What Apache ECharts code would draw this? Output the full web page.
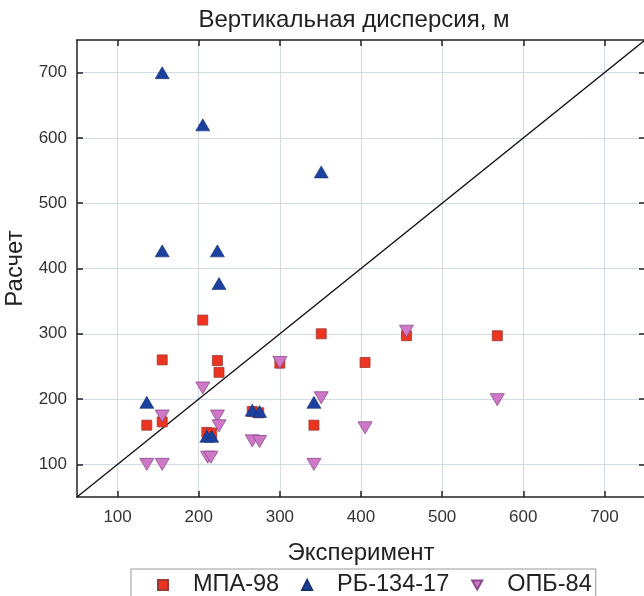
<!DOCTYPE html>
<html>
<head>
<meta charset="utf-8">
<script src="https://cdn.jsdelivr.net/npm/echarts@6/dist/echarts.min.js"></script>
<style>
  html, body { margin: 0; padding: 0; background: #fff; }
  #chart { width: 644px; height: 596px; }
</style>
</head>
<body>
<div id="chart"></div>
<script>
  // данные: [эксперимент, расчет]
  var mpa98 = [
    [136, 160], [155, 165], [155, 260], [205, 321], [210, 149], [216, 148],
    [223, 259], [225, 241], [266, 181], [274, 179], [300, 255], [342, 160],
    [351, 300], [405, 256], [456, 297], [568, 297]
  ];
  var rb13417 = [
    [155, 700], [205, 620], [351, 548], [155, 427], [223, 427], [225, 377],
    [136, 195], [210, 143], [216, 143], [266, 183], [275, 181], [342, 195]
  ];
  var opb84 = [
    [205, 217], [155, 174], [223, 174], [225, 159], [211, 111], [215, 111],
    [266, 136], [275, 135], [300, 256], [351, 202], [342, 100], [136, 100],
    [155, 100], [405, 156], [456, 304], [568, 199]
  ];
  // линия y = x
  var diagonal = [[50, 50], [750, 750]];
  var tickValues = [100, 200, 300, 400, 500, 600, 700];
  var axisMin = 50, axisMax = 750;
  var seriesNames = ["МПА-98", "РБ-134-17", "ОПБ-84"];

  var font = "Liberation Sans, Arial, sans-serif";
  var myChart = echarts.init(document.getElementById("chart"));

  // общие настройки осей
  function mainAxis(pos, name) {
    return {
      type: "value",
      position: pos,
      min: axisMin,
      max: axisMax,
      name: name,
      nameLocation: "middle",
      nameGap: pos === "bottom" ? 44 : 44,
      nameTextStyle: { fontFamily: font, fontSize: 24, color: "#222" },
      axisLine: { show: true, onZero: false, lineStyle: { color: "#222", width: 1.5 } },
      axisTick: { show: true, inside: true, length: 6, customValues: tickValues, lineStyle: { color: "#222", width: 1.5 } },
      axisLabel: {
        fontFamily: font, fontSize: 17, color: "#333",
        margin: pos === "bottom" ? 12 : 10,
        customValues: tickValues
      },
      splitLine: { show: true, lineStyle: { color: "#d3dbe4", width: 1 } }
    };
  }
  function sideAxis(pos) {
    return {
      type: "value",
      position: pos,
      min: axisMin,
      max: axisMax,
      axisLine: { show: true, onZero: false, lineStyle: { color: "#222", width: 1.5 } },
      axisTick: { show: true, inside: true, length: 6, customValues: tickValues, lineStyle: { color: "#222", width: 1.5 } },
      axisLabel: { show: false },
      splitLine: { show: false }
    };
  }

  myChart.setOption({
    animation: false,
    title: {
      text: "Вертикальная дисперсия, м",
      left: 349,
      textAlign: "center",
      top: 3,
      textStyle: { fontFamily: font, fontSize: 24, fontWeight: "normal", color: "#222" }
    },
    grid: { left: 77, right: -1, top: 40, bottom: 99, outerBoundsMode: "none", containLabel: false },
    legend: {
      top: 569,
      left: 131,
      data: [
        { name: seriesNames[0], icon: "rect" },
        { name: seriesNames[1], icon: "triangle" },
        { name: seriesNames[2], icon: "path://M0,0 L10,0 L5,9 Z" }
      ],
      itemWidth: 10,
      itemHeight: 10,
      itemGap: 22,
      padding: [4, 4, 8, 26],
      borderColor: "#999",
      borderWidth: 1,
      textStyle: { fontFamily: font, fontSize: 23.5, color: "#222", padding: [0, 0, 0, 20] }
    },
    xAxis: [mainAxis("bottom", "Эксперимент"), sideAxis("top")],
    yAxis: [mainAxis("left", "Расчет"), sideAxis("right")],
    series: [
      {
        type: "line",
        data: diagonal,
        symbol: "none",
        silent: true,
        lineStyle: { color: "#111", width: 1.3 },
        z: 1
      },
      {
        name: seriesNames[0],
        type: "scatter",
        data: mpa98,
        symbol: "rect",
        symbolSize: 10,
        itemStyle: { color: "#ec3420", borderColor: "#9a3b36", borderWidth: 0.8, opacity: 1 },
        z: 2
      },
      {
        name: seriesNames[1],
        type: "scatter",
        data: rb13417,
        symbol: "triangle",
        symbolSize: [14, 12],
        itemStyle: { color: "#1c409e", borderColor: "#15306e", borderWidth: 0.6, opacity: 1 },
        z: 3
      },
      {
        name: seriesNames[2],
        type: "scatter",
        data: opb84,
        symbol: "triangle",
        symbolRotate: 180,
        symbolSize: [14, 12],
        itemStyle: { color: "#cf78c8", borderColor: "#8a4a8c", borderWidth: 0.8, opacity: 1 },
        z: 4
      }
    ]
  });
</script>
</body>
</html>
